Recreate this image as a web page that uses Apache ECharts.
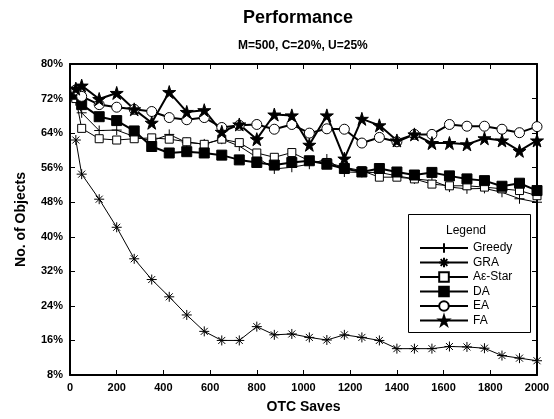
<!DOCTYPE html>
<html>
<head>
<meta charset="utf-8">
<script src="https://cdn.jsdelivr.net/npm/echarts@6/dist/echarts.min.js"></script>
<style>
  html, body { margin: 0; padding: 0; background: #fff; }
  #chart { width: 554px; height: 419px; }
</style>
</head>
<body>
<div id="chart"></div>
<script>
// OTC saves (x positions of the samples)
const xs = [25, 50, 125, 200, 275, 350, 425, 500, 575, 650, 725, 800, 875, 950,
  1025, 1100, 1175, 1250, 1325, 1400, 1475, 1550, 1625, 1700, 1775, 1850, 1925, 2000];

// percent of objects
const greedy = [71.5, 68.7, 64.6, 64.7, 63.2, 62.2, 63.7, 61.8, 61.5, 62.6, 61.0, 58.4, 55.7, 56.1,
  56.8, 58.0, 55.0, 54.9, 54.9, 54.1, 53.4, 53.0, 51.5, 51.1, 51.2, 50.3, 48.8, 48.0];
const gra = [62.4, 54.5, 48.7, 42.2, 34.9, 30.1, 26.1, 21.9, 18.1, 16.0, 16.0, 19.2, 17.3, 17.5,
  16.7, 16.1, 17.3, 16.7, 16.0, 14.1, 14.1, 14.1, 14.6, 14.5, 14.2, 12.5, 11.9, 11.3];
const aStar = [72.0, 65.1, 62.7, 62.4, 62.7, 62.9, 62.6, 62.0, 61.4, 62.6, 61.8, 59.4, 58.4, 59.5,
  57.6, 57.2, 56.1, 55.3, 53.8, 53.8, 53.4, 52.2, 51.8, 51.8, 51.5, 51.1, 50.7, 49.5];
const da = [73.0, 70.6, 67.8, 66.9, 64.5, 60.9, 59.4, 59.7, 59.4, 58.9, 57.8, 57.2, 56.6, 57.2,
  57.6, 56.8, 55.8, 55.0, 55.8, 55.0, 54.3, 54.9, 54.1, 53.4, 53.0, 51.7, 52.4, 50.7];
const ea = [74.0, 72.5, 70.6, 70.0, 69.5, 69.0, 67.6, 67.1, 67.6, 65.3, 65.8, 66.0, 64.9, 66.0,
  64.0, 65.0, 64.9, 61.7, 63.0, 62.0, 63.7, 63.7, 66.0, 65.6, 65.6, 64.9, 64.1, 65.5];
const fa = [74.3, 75.0, 71.9, 73.3, 69.5, 66.4, 73.5, 68.9, 69.3, 64.3, 66.0, 62.6, 68.3, 68.1,
  61.3, 68.1, 58.1, 67.3, 65.8, 62.3, 63.7, 61.7, 61.7, 61.4, 62.8, 62.3, 59.9, 62.3];

const FONT = '"Liberation Sans", Arial, sans-serif';

/* marker shapes */
const PLUS = 'path://M5,0 L5,10 M0,5 L10,5';
const ASTER = 'path://M5,0 L5,10 M0,5 L10,5 M1.5,1.5 L8.5,8.5 M8.5,1.5 L1.5,8.5';
const STAR = 'path://M50,0 L61,35 L98,35 L68,57 L79,91 L50,70 L21,91 L32,57 L2,35 L39,35 Z';

function pairs(arr) {
  return xs.map((x, i) => [x, arr[i]]);
}

function mkSeries(name, arr, symbol, size, fill, width) {
  return {
    name: name,
    type: 'line',
    data: pairs(arr),
    symbol: symbol,
    symbolSize: size,
    showAllSymbol: true,
    xAxisIndex: 0,
    yAxisIndex: 0,
    lineStyle: { color: '#000', width: width },
    itemStyle: { color: fill, borderColor: '#000', borderWidth: 1 },
    emphasis: { disabled: true },
    animation: false
  };
}

function frameAxis(pos, min, max, interval) {
  return {
    type: 'value',
    position: pos,
    min: min,
    max: max,
    interval: interval,
    axisLine: { show: true, onZero: false, lineStyle: { color: '#000', width: 2 } },
    axisTick: { show: true, inside: true, length: 5, lineStyle: { color: '#000', width: 1 } },
    axisLabel: { show: false },
    splitLine: { show: false }
  };
}

const chart = echarts.init(document.getElementById('chart'));

chart.setOption({
  backgroundColor: '#fff',
  animation: false,
  grid: { left: 70, right: 17, top: 64, bottom: 42 },
  graphic: [
    {
      type: 'text', left: 303 - 60, top: 9, z: 10,
      style: { text: 'Performance', x: 0, fill: '#000', font: 'bold 18px ' + FONT, width: 120, align: 'center' }
    },
    {
      type: 'rect', left: 408, top: 214, z: 5,
      shape: { width: 122, height: 118 },
      style: { fill: '#fff', stroke: '#000', lineWidth: 1 }
    },
    {
      type: 'text', left: 446, top: 225, z: 6,
      style: { text: 'Legend', fill: '#000', font: '12px ' + FONT }
    }
  ],
  title: {
    text: 'M=500, C=20%, U=25%',
    left: 233,
    top: 35,
    textStyle: { fontFamily: FONT, fontWeight: 'bold', fontSize: 12, color: '#000' }
  },
  legend: {
    orient: 'vertical',
    left: 414,
    top: 237,
    z: 7,
    itemWidth: 48,
    itemHeight: 12,
    itemGap: 2.5,
    textStyle: { fontFamily: FONT, fontSize: 12, lineHeight: 12, color: '#000' },
    data: ['Greedy', 'GRA', 'A\u03b5-Star', 'DA', 'EA', 'FA']
  },
  xAxis: [
    {
      type: 'value',
      position: 'bottom',
      min: 0,
      max: 2000,
      interval: 200,
      name: 'OTC Saves',
      nameLocation: 'middle',
      nameGap: 25,
      nameTextStyle: { fontFamily: FONT, fontWeight: 'bold', fontSize: 14, color: '#000' },
      axisLine: { show: true, onZero: false, lineStyle: { color: '#000', width: 2 } },
      axisTick: { show: true, inside: true, length: 5, lineStyle: { color: '#000', width: 1 } },
      axisLabel: {
        color: '#000', fontFamily: FONT, fontWeight: 'bold', fontSize: 11, margin: 7,
        formatter: v => String(v)
      },
      splitLine: { show: false }
    },
    frameAxis('top', 0, 2000, 200)
  ],
  yAxis: [
    {
      type: 'value',
      position: 'left',
      min: 8,
      max: 80,
      interval: 8,
      name: 'No. of Objects',
      nameLocation: 'middle',
      nameGap: 42,
      nameTextStyle: { fontFamily: FONT, fontWeight: 'bold', fontSize: 14, color: '#000' },
      axisLine: { show: true, onZero: false, lineStyle: { color: '#000', width: 2 } },
      axisTick: { show: true, inside: true, length: 5, lineStyle: { color: '#000', width: 1 } },
      axisLabel: { color: '#000', fontFamily: FONT, fontWeight: 'bold', fontSize: 11, margin: 7, formatter: '{value}%' },
      splitLine: { show: false }
    },
    frameAxis('right', 8, 80, 8)
  ],
  series: [
    mkSeries('Greedy', greedy, PLUS, 10, '#000', 1),
    mkSeries('GRA', gra, ASTER, 10, '#000', 1),
    mkSeries('A\u03b5-Star', aStar, 'rect', 8, '#fff', 1),
    mkSeries('DA', da, 'rect', 10, '#000', 2),
    mkSeries('EA', ea, 'circle', 10, '#fff', 2),
    mkSeries('FA', fa, STAR, 13, '#000', 2)
  ]
});
</script>
</body>
</html>
